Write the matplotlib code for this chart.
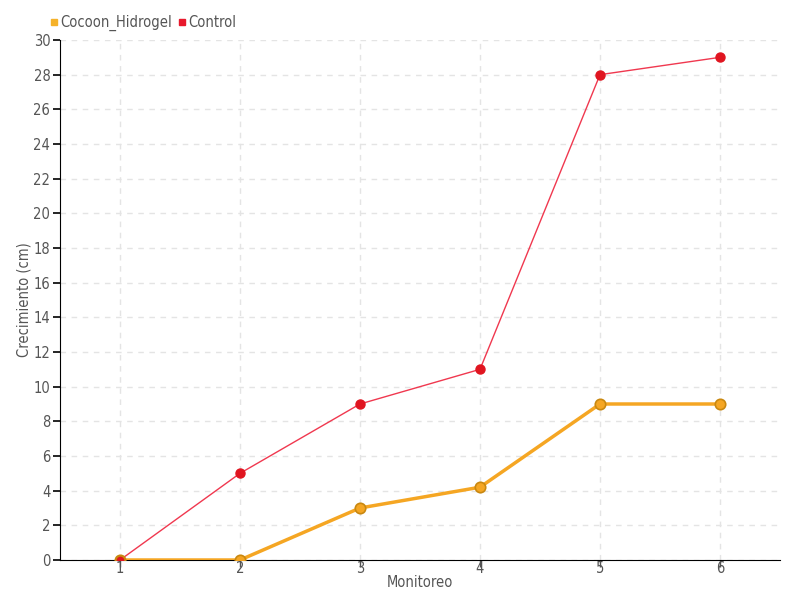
import matplotlib
matplotlib.use("Agg")
import matplotlib.pyplot as plt
from matplotlib.lines import Line2D

monitoreo = [1, 2, 3, 4, 5, 6]
cocoon_hidrogel = [0, 0, 3, 4.2, 9, 9]
control = [0, 5, 9, 11, 28, 29]
y_ticks = list(range(0, 31, 2))

plt.rcParams['font.family'] = ['DejaVu Sans']
plt.rcParams['font.stretch'] = 'condensed'

fig = plt.figure(figsize=(8, 6), dpi=100)
ax = fig.add_axes([60/800, 40/600, 720/800, 520/600])

ax.plot(monitoreo, control, color='#f0384f', lw=1.0, marker='o', ms=6.5,
        mfc='#e01520', mec='#e01520', zorder=3)
ax.plot(monitoreo, cocoon_hidrogel, color='#f5a623', lw=2.5, marker='o', ms=7.5,
        mfc='#f5a623', mec='#c98810', mew=1.2, zorder=4)
ax.plot(monitoreo[:1], control[:1], lw=0, marker='o', ms=6.5, mfc='#e01520', mec='#c98810', mew=1, zorder=5)

ax.set_xlim(0.5, 6.5)
ax.set_ylim(0, 30)
ax.set_xticks(monitoreo)
ax.set_yticks(y_ticks)
ax.grid(True, color='#e4e4e4', ls=(0, (4, 4)), lw=1)
ax.set_axisbelow(True)
for s in ['top', 'right']:
    ax.spines[s].set_visible(False)
ax.spines['left'].set_color('black')
ax.spines['bottom'].set_color('black')
ax.tick_params(axis='y', length=5, width=1.2, colors='black', labelcolor='#555555', labelsize=10.5, pad=2)
ax.tick_params(axis='x', length=5, width=1, colors='#555555', labelcolor='#555555', labelsize=10.5, pad=-4)
ax.set_xlabel('Monitoreo', color='#555555', fontsize=10.5, labelpad=-1)
ax.set_ylabel('Crecimiento (cm)', color='#555555', fontsize=10.5, va='center')
ax.yaxis.set_label_coords(-36/720, 0.5)

handles = [Line2D([], [], lw=0, marker='s', ms=5, color='#f5b22a'),
           Line2D([], [], lw=0, marker='s', ms=5, color='#e8192c')]
fig.legend(handles, ['Cocoon_Hidrogel', 'Control'], loc='upper left',
           bbox_to_anchor=(36/800, 1 - 2/600), ncol=2, frameon=False,
           handlelength=0.6, handletextpad=0.15, columnspacing=0.4,
           labelcolor='#555555', fontsize=10.5)

fig.savefig('out.png', dpi=100)
